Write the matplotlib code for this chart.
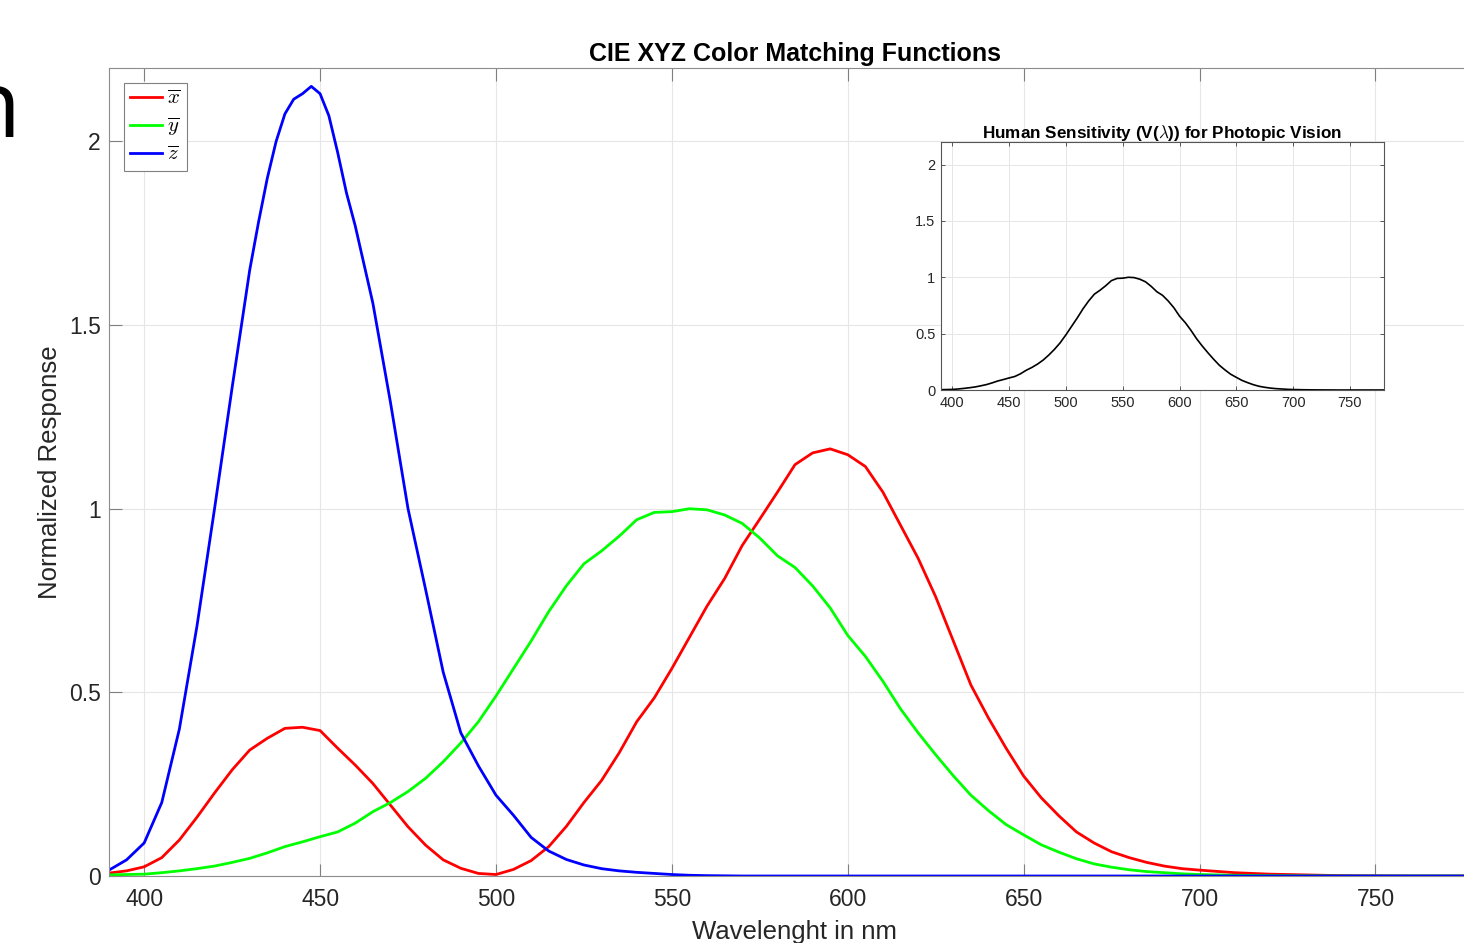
import numpy as np
import matplotlib
matplotlib.use('Agg')
import matplotlib.pyplot as plt

plt.rcParams['font.family'] = ['Liberation Sans', 'DejaVu Sans']
plt.rcParams['mathtext.fontset'] = 'cm'

# values
wavelength = [390, 395, 400, 405, 410, 415, 420, 425, 430, 435, 440, 445, 450, 455, 460,
              465, 470, 475, 480, 485, 490, 495, 500, 505, 510, 515, 520, 525, 530, 535,
              540, 545, 550, 555, 560, 565, 570, 575, 580, 585, 590, 595, 600, 605, 610,
              615, 620, 625, 630, 635, 640, 645, 650, 655, 660, 665, 670, 675, 680, 685,
              690, 695, 700, 710, 720, 730, 740, 750, 760, 770, 780]

x_bar = [0.008, 0.014, 0.025, 0.05, 0.098, 0.16, 0.226, 0.289, 0.343, 0.375, 0.402, 0.405,
         0.396, 0.348, 0.302, 0.252, 0.193, 0.134, 0.084, 0.044, 0.021, 0.007, 0.004, 0.018,
         0.042, 0.08, 0.135, 0.2, 0.26, 0.335, 0.42, 0.485, 0.565, 0.65, 0.735, 0.81, 0.9,
         0.972, 1.045, 1.12, 1.152, 1.163, 1.147, 1.115, 1.045, 0.955, 0.865, 0.76, 0.64,
         0.52, 0.43, 0.348, 0.272, 0.213, 0.164, 0.12, 0.09, 0.066, 0.05, 0.037, 0.027,
         0.02, 0.016, 0.009, 0.005, 0.003, 0.001, 0.0005, 0.0, 0.0, 0.0]

y_bar = [0.003, 0.004, 0.005, 0.009, 0.014, 0.02, 0.027, 0.037, 0.048, 0.063, 0.08, 0.093,
         0.107, 0.12, 0.144, 0.175, 0.2, 0.23, 0.266, 0.311, 0.362, 0.42, 0.49, 0.565, 0.64,
         0.72, 0.79, 0.85, 0.885, 0.925, 0.97, 0.99, 0.992, 1.0, 0.997, 0.983, 0.96, 0.92,
         0.872, 0.84, 0.79, 0.73, 0.655, 0.598, 0.53, 0.455, 0.39, 0.33, 0.273, 0.22, 0.178,
         0.14, 0.112, 0.085, 0.065, 0.047, 0.033, 0.024, 0.017, 0.012, 0.009, 0.006, 0.004,
         0.002, 0.001, 0.0005, 0.0, 0.0, 0.0, 0.0, 0.0]

# z-bar was read a little finer around its sharp peak
z_wavelength = [390, 395, 400, 405, 410, 415, 420, 425, 430, 432.5, 435, 437.5, 440, 442.5,
                445, 447.5, 450, 452.5, 455, 457.5, 460, 465, 470, 475, 480, 485, 490, 495,
                500, 505, 510, 515, 520, 525, 530, 535, 540, 545, 550, 555, 560, 570, 600,
                650, 700, 750, 780]
z_bar = [0.016, 0.044, 0.09, 0.2, 0.4, 0.68, 1.0, 1.33, 1.65, 1.78, 1.9, 2.0, 2.075, 2.115,
         2.13, 2.15, 2.13, 2.07, 1.97, 1.86, 1.77, 1.56, 1.29, 1.0, 0.78, 0.555, 0.39, 0.3,
         0.22, 0.165, 0.105, 0.068, 0.045, 0.03, 0.02, 0.014, 0.01, 0.007, 0.004, 0.002,
         0.001, 0.0, 0.0, 0.0, 0.0, 0.0, 0.0]

# photopic sensitivity V(lambda) is the y-bar curve
v_lambda = y_bar

x_ticks = [400, 450, 500, 550, 600, 650, 700, 750]
y_ticks = [0, 0.5, 1, 1.5, 2]
y_tick_labels = ['0', '0.5', '1', '1.5', '2']

W, H = 1464, 943
fig = plt.figure(figsize=(W / 100, H / 100), dpi=100)

# cropped slide text at the top-left
fig.text(21 / W, (H - 137) / H, 'n', fontsize=68, family=['Open Sans', 'DejaVu Sans'],
         ha='right', va='baseline', color='black')

# main axes (runs past the right edge of the picture, as in the reference)
ax = fig.add_axes([109 / W, (H - 876) / H, (1481 - 109) / W, (876 - 68) / H])
ax.plot(wavelength, x_bar, color='#ff0000', lw=2.0, label=r'$\overline{x}$',
        solid_joinstyle='round')
ax.plot(wavelength, y_bar, color='#00ff00', lw=2.0, label=r'$\overline{y}$',
        solid_joinstyle='round')
ax.plot(z_wavelength, z_bar, color='#0000ff', lw=2.0, label=r'$\overline{z}$',
        solid_joinstyle='round')
ax.set_xlim(390, 780)
ax.set_ylim(0, 2.2)
ax.set_xticks(x_ticks)
ax.set_yticks(y_ticks)
ax.set_yticklabels(y_tick_labels)
ax.grid(True, color='#e6e6e6', lw=0.8)
ax.set_axisbelow(True)
ax.tick_params(direction='in', length=9, width=0.8, top=True, right=True,
               colors='#7f7f7f', labelcolor='#262626', labelsize=16.5)
ax.tick_params(axis='x', pad=9)
ax.tick_params(axis='y', pad=6)
for s in ax.spines.values():
    s.set_color('#8c8c8c')
    s.set_linewidth(0.8)
ax.set_title('CIE XYZ Color Matching Functions', fontsize=18, fontweight='bold', pad=5)
ax.set_xlabel('Wavelenght in nm', fontsize=18.5, color='#262626', labelpad=6)
ax.set_ylabel('Normalized Response', fontsize=18.5, color='#262626', labelpad=5)

leg = ax.legend(loc='upper left', bbox_to_anchor=(15 / 1372, (876 - 83) / 808),
                borderaxespad=0, fontsize=15, handlelength=1.5, handletextpad=0.25,
                labelspacing=0.35, borderpad=0.3, fancybox=False, framealpha=1)
leg.get_frame().set_edgecolor('#808080')
leg.get_frame().set_linewidth(0.8)

# inset: photopic sensitivity
ax2 = fig.add_axes([941 / W, (H - 390) / H, 443 / W, 248 / H])
ax2.plot(wavelength, v_lambda, color='black', lw=1.2, solid_joinstyle='round')
ax2.set_xlim(390, 780)
ax2.set_ylim(0, 2.2)
ax2.set_xticks(x_ticks)
ax2.set_yticks(y_ticks)
ax2.set_yticklabels(y_tick_labels)
ax2.grid(True, color='#e6e6e6', lw=0.7)
ax2.set_axisbelow(True)
ax2.tick_params(direction='in', length=3, width=0.7, top=True, right=True,
                colors='#555555', labelcolor='#262626', labelsize=10.5, pad=4)
for s in ax2.spines.values():
    s.set_color('#555555')
    s.set_linewidth(0.8)
ax2.set_title(r'Human Sensitivity (V($\lambda$)) for Photopic Vision', fontsize=12.3,
              fontweight='bold', pad=3)

fig.savefig('out.png', dpi=100)
